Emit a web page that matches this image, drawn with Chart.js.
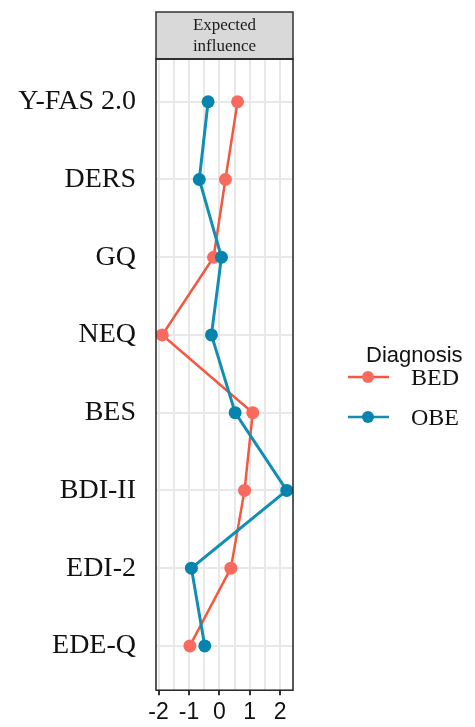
<!DOCTYPE html>
<html>
<head>
<meta charset="utf-8">
<script src="https://cdn.jsdelivr.net/npm/chart.js@4/dist/chart.umd.min.js"></script>
<style>
  html, body { margin: 0; padding: 0; background: #fff; }
  #myChart { display: block; }
</style>
</head>
<body>
<canvas id="myChart" width="475" height="727"></canvas>
<script>
// categories top -> bottom
const measures = ["Y-FAS 2.0", "DERS", "GQ", "NEQ", "BES", "BDI-II", "EDI-2", "EDE-Q"];
// expected influence
const bedValues = [0.60, 0.20, -0.19, -1.88, 1.10, 0.83, 0.38, -0.97];
const obeValues = [-0.37, -0.66, 0.07, -0.26, 0.52, 2.22, -0.92, -0.48];
const xTicks = [-2, -1, 0, 1, 2];
const facetTitle = ["Expected", "influence"];
const legendTitle = "Diagnosis";
const groups = ["BED", "OBE"];

const bedColor = "#F5573F";
const bedPoint = "#F86A5E";
const obeColor = "#128DB3";
const obePoint = "#0584AD";

const toPoints = vals => vals.map((v, i) => ({ x: v, y: i }));

// facet strip, panel border and legend (ggplot look)
const decor = {
  id: "decor",
  afterDraw(chart) {
    const { ctx, chartArea: a } = chart;
    ctx.save();
    // strip
    ctx.fillStyle = "#D9D9D9";
    ctx.fillRect(a.left, 12, a.right - a.left, a.top - 12);
    ctx.strokeStyle = "#333";
    ctx.lineWidth = 1.5;
    ctx.strokeRect(a.left, 12, a.right - a.left, a.top - 12);
    ctx.fillStyle = "#1a1a1a";
    ctx.font = "17px 'Liberation Serif', serif";
    ctx.textAlign = "center";
    ctx.textBaseline = "middle";
    const cx = (a.left + a.right) / 2;
    ctx.fillText(facetTitle[0], cx, 26);
    ctx.fillText(facetTitle[1], cx, 47);
    // panel border
    ctx.strokeStyle = "#222";
    ctx.lineWidth = 1.5;
    ctx.strokeRect(a.left, a.top, a.right - a.left, a.bottom - a.top);

    // legend
    ctx.textAlign = "left";
    ctx.fillStyle = "#111";
    ctx.font = "22px 'Liberation Sans', Arial, sans-serif";
    ctx.fillText(legendTitle, 366, 356);
    const rows = [
      { label: groups[0], line: bedColor, pt: bedPoint, y: 377 },
      { label: groups[1], line: obeColor, pt: obePoint, y: 417 }
    ];
    rows.forEach(r => {
      ctx.strokeStyle = r.line;
      ctx.lineWidth = 2.5;
      ctx.beginPath();
      ctx.moveTo(348, r.y);
      ctx.lineTo(389, r.y);
      ctx.stroke();
      ctx.fillStyle = r.pt;
      ctx.beginPath();
      ctx.arc(368, r.y, 6, 0, Math.PI * 2);
      ctx.fill();
      ctx.fillStyle = "#111";
      ctx.font = "24px 'Liberation Serif', serif";
      ctx.fillText(r.label, 411, r.y + 2);
    });
    ctx.restore();
  }
};

const ctx = document.getElementById("myChart");

new Chart(ctx, {
  type: "scatter",
  data: {
    datasets: [
      {
        label: groups[0],
        data: toPoints(bedValues),
        showLine: true,
        borderColor: bedColor,
        backgroundColor: bedPoint,
        borderWidth: 2.5,
        pointRadius: 6.5,
        pointBorderWidth: 0,
        pointHoverRadius: 6.5,
        order: 1
      },
      {
        label: groups[1],
        data: toPoints(obeValues),
        showLine: true,
        borderColor: obeColor,
        backgroundColor: obePoint,
        borderWidth: 3,
        pointRadius: 6.5,
        pointBorderWidth: 0,
        pointHoverRadius: 6.5,
        order: 0
      }
    ]
  },
  options: {
    responsive: false,
    animation: false,
    layout: { padding: { top: 59, right: 182, left: 0, bottom: 0 } },
    plugins: {
      legend: { display: false },
      tooltip: { enabled: false }
    },
    scales: {
      x: {
        type: "linear",
        min: -2.085,
        max: 2.425,
        afterBuildTicks: s => {
          const t = [];
          for (let v = -2; v <= 2; v += 0.5) t.push({ value: v });
          s.ticks = t;
        },
        afterFit: s => { s.height = 30; },
        border: { display: false },
        grid: {
          color: "#E8E8E8",
          lineWidth: 2,
          tickLength: 5,
          tickWidth: 2,
          tickColor: c => (xTicks.includes(c.tick.value) ? "#333" : "rgba(0,0,0,0)")
        },
        ticks: {
          autoSkip: false,
          maxRotation: 0,
          padding: 4,
          color: "#111",
          font: { family: "'Liberation Sans', Arial, sans-serif", size: 23 },
          callback: v => (xTicks.includes(v) ? String(v) : "")
        }
      },
      y: {
        type: "linear",
        reverse: true,
        min: -0.55,
        max: 7.57,
        afterBuildTicks: s => {
          s.ticks = measures.map((m, i) => ({ value: i }));
        },
        afterFit: s => { s.width = 156; },
        border: { display: false },
        grid: {
          color: "#E8E8E8",
          lineWidth: 2,
          drawTicks: false
        },
        ticks: {
          autoSkip: false,
          padding: 20,
          color: "#111",
          font: { family: "'Liberation Serif', 'Times New Roman', serif", size: 28 },
          callback: v => measures[v]
        }
      }
    }
  },
  plugins: [decor]
});
</script>
</body>
</html>
